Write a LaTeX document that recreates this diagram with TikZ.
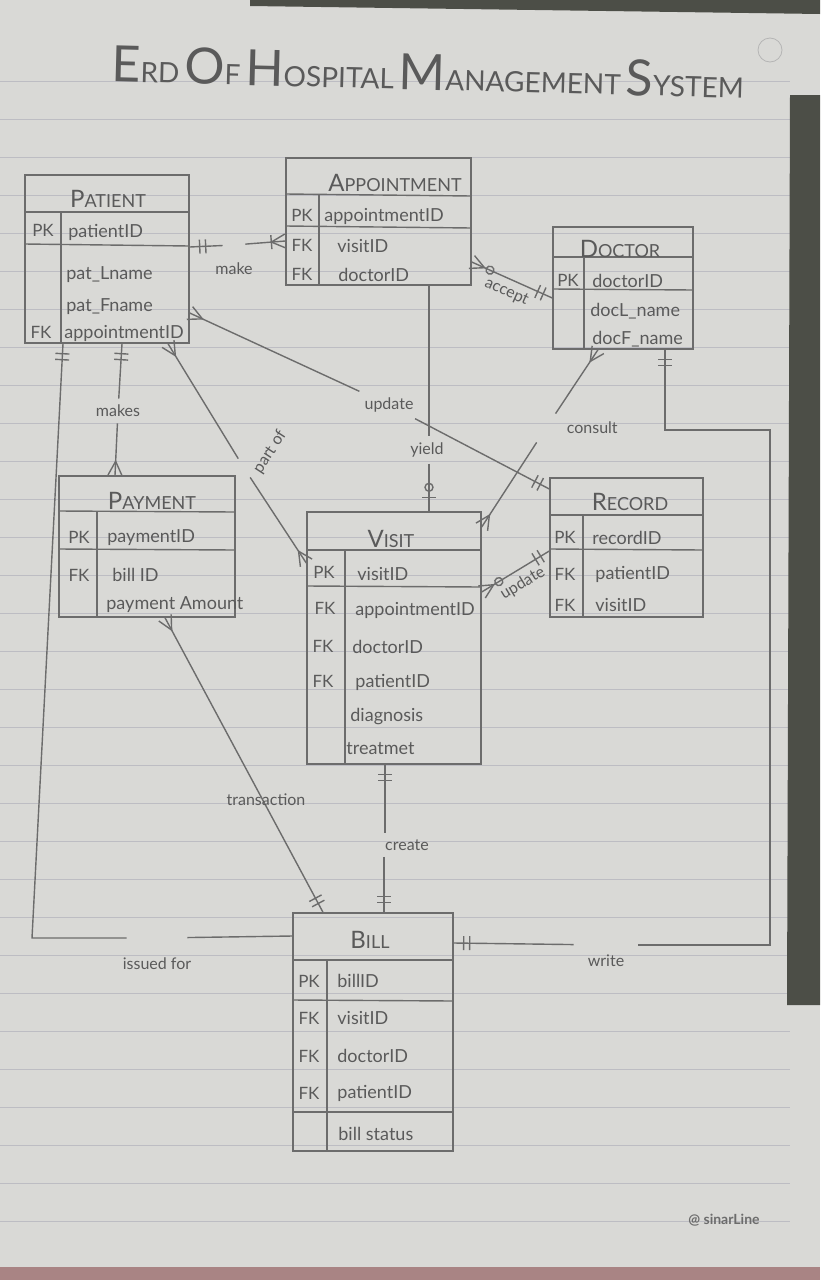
\documentclass[tikz,border=0pt]{standalone}
\usepackage{fontspec}
\setmainfont{Lato}
\usetikzlibrary{positioning,fit,decorations.markings}

\definecolor{paper}{HTML}{D9D9D6}
\definecolor{ruling}{HTML}{BDBDC3}
\definecolor{pencil}{HTML}{6C6C6C}
\definecolor{ink}{HTML}{5A5A5A}
\definecolor{darkedge}{HTML}{4C4E47}
\definecolor{bottomedge}{HTML}{A98484}

% hand-lettered small caps
\newcommand{\hsc}[2]{{\fontsize{12}{12}\selectfont #1}{\fontsize{9}{9}\selectfont #2}}
\newcommand{\bigsc}[2]{{\fontsize{25}{25}\selectfont #1}{\fontsize{14}{14}\selectfont #2}}

\tikzset{
  pencilline/.style={draw=pencil, line width=0.7pt},
  entity/.style={pencilline, rectangle, inner sep=0pt},
  attr/.style={anchor=west, inner sep=0pt, text=ink, font=\fontsize{9}{10}\selectfont},
  keytag/.style={inner sep=0pt, text=ink, font=\fontsize{8.5}{10}\selectfont},
  entname/.style={inner sep=0pt, text=ink},
  rellabel/.style={inner sep=3pt, text=ink, font=\fontsize{8}{9}\selectfont},
  gap/.style={inner sep=0pt, minimum width=#1, minimum height=#1},
  onestart/.style={postaction={decorate,decoration={markings,
      mark=at position 5pt with {\draw[pencilline] (0,-3.5pt) -- (0,3.5pt);},
      mark=at position 8pt with {\draw[pencilline] (0,-3.5pt) -- (0,3.5pt);}}}},
  oneend/.style={postaction={decorate,decoration={markings,
      mark=at position -5pt with {\draw[pencilline] (0,-3.5pt) -- (0,3.5pt);},
      mark=at position -8pt with {\draw[pencilline] (0,-3.5pt) -- (0,3.5pt);}}}},
  crowstart/.style={postaction={decorate,decoration={markings,
      mark=at position 7pt with {\draw[pencilline] (-7pt,-3.5pt) -- (0,0) -- (-7pt,3.5pt);}}}},
  crowend/.style={postaction={decorate,decoration={markings,
      mark=at position -7pt with {\draw[pencilline] (7pt,-3.5pt) -- (0,0) -- (7pt,3.5pt);}}}},
  barend/.style={postaction={decorate,decoration={markings,
      mark=at position -7pt with {\draw[pencilline] (0,-3.5pt) -- (0,3.5pt);}}}},
  zerostart/.style={postaction={decorate,decoration={markings,
      mark=at position 10pt with {\draw[pencilline] (0,0) circle (2pt);}}}},
  zeroend/.style={postaction={decorate,decoration={markings,
      mark=at position -12pt with {\draw[pencilline] (0,0) circle (2pt);}}}}
}

\begin{document}
\begin{tikzpicture}[x=0.5pt,y=-0.5pt]
  \useasboundingbox (0,0) rectangle (820,1280);
  % the sheet
  \fill[paper] (0,0) rectangle (820,1280);
  \foreach \ry in {81,119,...,1221}
    \draw[ruling, line width=0.5pt] (0,\ry) -- (790,\ry);
  \fill[darkedge] (250,0) -- (820,0) -- (820,14) -- (250,6) -- cycle;
  \fill[darkedge] (790,95) -- (820,95) -- (820,1005) -- (787,1005) -- cycle;
  \fill[bottomedge] (0,1267) rectangle (820,1280);

  \node[entname, rotate=-1.5] (title) at (428,72)
    {\bigsc{E}{RD} \bigsc{O}{F} \bigsc{H}{OSPITAL} \bigsc{M}{ANAGEMENT} \bigsc{S}{YSTEM}};
  \node[draw=pencil!50, circle, minimum size=12pt, inner sep=0pt] (pagemark) at (770,50) {};
  \node[text=pencil, font=\fontsize{7}{8}\selectfont\bfseries] (brand) at (724,1220) {@ sinarLine};

  % Patient
  \node[entity, fit={(25,175) (189,343)}] (patient) {};
  \draw[pencilline] (patient.west |- 0,212) -- (patient.east |- 0,212);
  \draw[pencilline] (patient.west |- 0,244) -- (patient.east |- 0,246);
  \draw[pencilline] (61,212) -- (patient.south -| 61,0);
  \node[entname] (patientname) at (108,199) {\hsc{P}{ATIENT}};
  \node[keytag] (patientpk) at (43,230) {PK};
  \node[attr] (patientid) at (68,232) {patientID};
  \node[attr] (patlname) at (66,275) {pat\_Lname};
  \node[attr] (patfname) at (66,307) {pat\_Fname};
  \node[keytag] (patientfk) at (41,332) {FK};
  \node[attr] (patapptid) at (64,333) {appointmentID};

  % Appointment
  \node[entity, fit={(286,158) (471,285)}] (appt) {};
  \draw[pencilline] (appt.west |- 0,194) -- (appt.east |- 0,196);
  \draw[pencilline] (appt.west |- 0,226) -- (appt.east |- 0,228);
  \draw[pencilline] (319,194) -- (appt.south -| 319,0);
  \node[entname] (apptname) at (395,183) {\hsc{A}{PPOINTMENT}};
  \node[keytag] (apptpk) at (302,215) {PK};
  \node[attr] (apptid) at (324,216) {appointmentID};
  \node[keytag] (apptfka) at (302,245) {FK};
  \node[attr] (apptvisit) at (337,246) {visitID};
  \node[keytag] (apptfkb) at (302,274) {FK};
  \node[attr] (apptdoctor) at (338,275) {doctorID};

  % Doctor
  \node[entity, fit={(553,227) (693,349)}] (doctor) {};
  \draw[pencilline] (doctor.west |- 0,257) -- (doctor.east |- 0,257);
  \draw[pencilline] (doctor.west |- 0,289) -- (doctor.east |- 0,290);
  \draw[pencilline] (584,257) -- (doctor.south -| 584,0);
  \node[entname] (doctorname) at (620,249) {\hsc{D}{OCTOR}};
  \node[keytag] (doctorpk) at (568,280) {PK};
  \node[attr] (doctorid) at (592,281) {doctorID};
  \node[attr] (doclname) at (590,311) {docL\_name};
  \node[attr] (docfname) at (592,339) {docF\_name};

  % Payment
  \node[entity, fit={(59,476) (235,617)}] (payment) {};
  \draw[pencilline] (payment.west |- 0,511) -- (payment.east |- 0,512);
  \draw[pencilline] (payment.west |- 0,549) -- (payment.east |- 0,550);
  \draw[pencilline] (97,511) -- (payment.south -| 97,0);
  \node[entname] (paymentname) at (152,501) {\hsc{P}{AYMENT}};
  \node[keytag] (paymentpk) at (79,537) {PK};
  \node[attr] (paymentid) at (107,538) {paymentID};
  \node[keytag] (paymentfk) at (79,575) {FK};
  \node[attr] (paybillid) at (112,575) {bill ID};
  \node[attr] (payamount) at (106,605) {payment Amount};

  % Visit
  \node[entity, fit={(307,512) (481,764)}] (visit) {};
  \draw[pencilline] (visit.west |- 0,550) -- (visit.east |- 0,550);
  \draw[pencilline] (visit.west |- 0,586) -- (visit.east |- 0,587);
  \draw[pencilline] (345,550) -- (visit.south -| 345,0);
  \node[entname] (visitname) at (391,539) {\hsc{V}{ISIT}};
  \node[keytag] (visitpk) at (324,572) {PK};
  \node[attr] (visitid) at (357,574) {visitID};
  \node[keytag] (visitfka) at (325,608) {FK};
  \node[attr] (visitappt) at (355,610) {appointmentID};
  \node[keytag] (visitfkb) at (323,646) {FK};
  \node[attr] (visitdoctor) at (352,647) {doctorID};
  \node[keytag] (visitfkc) at (323,681) {FK};
  \node[attr] (visitpatient) at (355,682) {patientID};
  \node[attr] (diagnosis) at (350,717) {diagnosis};
  \node[attr] (treatment) at (346,749) {treatmet};

  % Record
  \node[entity, fit={(550,478) (703,617)}] (record) {};
  \draw[pencilline] (record.west |- 0,515) -- (record.east |- 0,515);
  \draw[pencilline] (record.west |- 0,549) -- (record.east |- 0,550);
  \draw[pencilline] (583,515) -- (record.south -| 583,0);
  \node[entname] (recordname) at (630,502) {\hsc{R}{ECORD}};
  \node[keytag] (recordpk) at (565,537) {PK};
  \node[attr] (recordid) at (592,538) {recordID};
  \node[keytag] (recordfka) at (565,574) {FK};
  \node[attr] (recpatient) at (595,574) {patientID};
  \node[keytag] (recordfkb) at (565,605) {FK};
  \node[attr] (recvisit) at (595,605) {visitID};

  % Bill
  \node[entity, fit={(293,913) (453,1151)}] (bill) {};
  \draw[pencilline] (bill.west |- 0,960) -- (bill.east |- 0,960);
  \draw[pencilline] (bill.west |- 0,1000) -- (bill.east |- 0,1001);
  \draw[pencilline] (bill.west |- 0,1112) -- (bill.east |- 0,1112);
  \draw[pencilline] (327,960) -- (bill.south -| 327,0);
  \node[entname] (billname) at (370,940) {\hsc{B}{ILL}};
  \node[keytag] (billpk) at (309,981) {PK};
  \node[attr] (billid) at (337,981) {billID};
  \node[keytag] (billfka) at (309,1018) {FK};
  \node[attr] (billvisit) at (337,1018) {visitID};
  \node[keytag] (billfkb) at (309,1056) {FK};
  \node[attr] (billdoctor) at (337,1056) {doctorID};
  \node[keytag] (billfkc) at (309,1093) {FK};
  \node[attr] (billpatient) at (337,1093) {patientID};
  \node[attr] (billstatus) at (338,1134) {bill status};

  % relationships
  \node[gap=11pt, minimum height=1pt] (makegap) at (234,245) {};
  \node[rellabel, below=5pt of makegap] (makelbl) {make};
  \draw[pencilline, onestart] (patient.east |- 0,247) -- (makegap);
  \draw[pencilline, crowend, barend] (makegap) -- (appt.west |- 0,241);

  \draw[pencilline, crowstart, zerostart, oneend] (appt.east |- 0,262) -- (doctor.west |- 0,298)
    node[rellabel, midway, below, sloped] (acceptlbl) {accept};

  \node[rellabel] (yieldlbl) at (427,450) {yield};
  \draw[pencilline] (appt.south -| 429,0) -- (yieldlbl.north -| 429,0);
  \draw[pencilline, zeroend, barend] (yieldlbl.south -| 429,0) -- (visit.north -| 429,0);

  \node[rellabel] (updatelbl) at (389,405) {update};
  \draw[pencilline, crowstart] (patient.east |- 0,313) -- (updatelbl);
  \draw[pencilline, oneend] (updatelbl) -- (record.west |- 0,489);

  \node[gap=14pt] (consultgap) at (546,428) {};
  \node[rellabel, right=0pt of consultgap] (consultlbl) {consult};
  \draw[pencilline, crowstart] (doctor.south -| 598,0) -- (consultgap);
  \draw[pencilline, crowend] (consultgap) -- (visit.east |- 0,527);

  \node[rellabel] (makeslbl) at (118,411) {makes};
  \draw[pencilline, onestart] (patient.south -| 122,0) -- (makeslbl);
  \draw[pencilline, crowend] (makeslbl) -- (payment.north -| 115,0);

  \node[gap=9pt] (partofgap) at (244,468) {};
  \node[rellabel, inner sep=1pt, rotate=57] (partoflbl) at (270,452) {part of};
  \draw[pencilline, crowstart] (patient.south -| 168,0) -- (partofgap);
  \draw[pencilline, crowend] (partofgap) -- (visit.west |- 0,563);

  \draw[pencilline, crowstart, zerostart, oneend] (visit.east |- 0,592) -- (record.west |- 0,551)
    node[rellabel, midway, below, sloped] (updatetwolbl) {update};

  \draw[pencilline, crowstart, oneend] (payment.south -| 165,0) -- (bill.north -| 323,0);
  \node[rellabel] (transactionlbl) at (266,800) {transaction};

  \node[rellabel] (createlbl) at (407,845) {create};
  \draw[pencilline, onestart] (visit.south -| 385,0) -- (createlbl.north -| 385,0);
  \draw[pencilline, oneend] (createlbl.south -| 384,0) -- (bill.north -| 384,0);

  \coordinate (issuedcorner) at (32,938);
  \node[gap=30pt, minimum height=1pt] (issuedgap) at (157,938) {};
  \node[rellabel, below=6pt of issuedgap] (issuedlbl) {issued for};
  \draw[pencilline, onestart] (patient.south -| 63,0) -- (issuedcorner) -- (issuedgap);
  \draw[pencilline] (issuedgap) -- (bill.west |- 0,936);

  \coordinate (writekneea) at (665,430);
  \coordinate (writekneeb) at (770,430);
  \coordinate (writekneec) at (770,945);
  \node[gap=32pt, minimum height=1pt] (writegap) at (606,945) {};
  \node[rellabel, below=1pt of writegap] (writelbl) {write};
  \draw[pencilline, onestart] (doctor.south -| 665,0) -- (writekneea) -- (writekneeb) -- (writekneec) -- (writegap);
  \draw[pencilline, oneend] (writegap) -- (bill.east |- 0,943);
\end{tikzpicture}
\end{document}
